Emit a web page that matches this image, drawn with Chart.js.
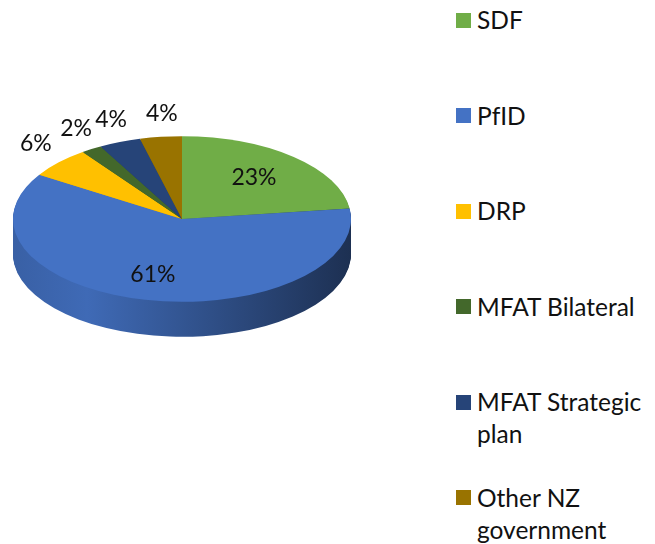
<!DOCTYPE html>
<html>
<head>
<meta charset="utf-8">
<script src="https://cdn.jsdelivr.net/npm/chart.js@4.4.1/dist/chart.umd.min.js"></script>
<style>
  html, body { margin: 0; padding: 0; background: #fff; overflow: hidden; }
  #wrap { position: relative; width: 655px; height: 544px; }
  #pie { position: absolute; left: 0; top: 0; }
  #legend { position: absolute; left: 456px; top: 4px; font-family: Lato, "Open Sans", sans-serif; font-size: 24.5px; line-height: 32px; color: #111; }
  .item { height: 95.5px; display: flex; align-items: flex-start; }
  .box { width: 15px; height: 15px; margin-top: 8.5px; margin-right: 6px; flex: none; }
  .txt { width: 176px; }
</style>
</head>
<body>
<div id="wrap">
  <canvas id="pie" width="365" height="438"></canvas>
  <div id="legend"></div>
</div>
<script>
const categories = ['SDF', 'PfID', 'DRP', 'MFAT Bilateral', 'MFAT Strategic plan', 'Other NZ government'];
const shares = [23, 61, 6, 2, 4, 4];
const colors = ['#70AD47', '#4472C4', '#FFC000', '#43682B', '#264478', '#997300'];

const tilt = 0.49;   // vertical squash of the pie top
const depth = 35;    // thickness of the pie in px

function shade(hex, f) {
  const n = parseInt(hex.slice(1), 16);
  const r = Math.round(((n >> 16) & 255) * f);
  const g = Math.round(((n >> 8) & 255) * f);
  const b = Math.round((n & 255) * f);
  return `rgb(${r},${g},${b})`;
}

const pie3d = {
  id: 'pie3d',
  beforeDatasetsDraw(chart) {
    const ctx = chart.ctx;
    const arcs = chart.getDatasetMeta(0).data;
    const cx = arcs[0].x, cy = arcs[0].y, r = arcs[0].outerRadius;
    ctx.save();
    ctx.translate(cx, cy);
    ctx.scale(1, tilt);
    ctx.translate(-cx, -cy);
    const fills = arcs.map((a, i) => {
      const g = ctx.createLinearGradient(cx - r, 0, cx + r, 0);
      g.addColorStop(0, shade(colors[i], 0.84));
      g.addColorStop(0.22, shade(colors[i], 0.93));
      g.addColorStop(1, shade(colors[i], 0.42));
      return g;
    });
    for (let d = depth; d > 0; d--) {
      const oy = cy + d / tilt;
      arcs.forEach((a, i) => {
        ctx.fillStyle = fills[i];
        ctx.beginPath();
        ctx.moveTo(cx, oy);
        ctx.arc(cx, oy, r, a.startAngle, a.endAngle);
        ctx.closePath();
        ctx.fill();
      });
    }
  },
  afterDatasetsDraw(chart) {
    const ctx = chart.ctx;
    ctx.restore();
    const arcs = chart.getDatasetMeta(0).data;
    const cx = arcs[0].x, cy = arcs[0].y, r = arcs[0].outerRadius;
    const total = shares.reduce((s, v) => s + v, 0);
    ctx.save();
    ctx.font = '23px Lato, "Open Sans", sans-serif';
    ctx.fillStyle = '#111';
    ctx.textAlign = 'center';
    ctx.textBaseline = 'middle';
    arcs.forEach((a, i) => {
      const mid = (a.startAngle + a.endAngle) / 2;
      let x, y;
      if (shares[i] / total < 0.1) {
        // small slices: label outside the rim, nudged clockwise like Excel does
        const rr = 1.2 * r;
        x = cx + rr * Math.cos(mid) + 6 * (1 + Math.cos(mid));
        y = cy + rr * tilt * Math.sin(mid) - 7;
      } else {
        const rr = 0.68 * r;
        x = cx + rr * Math.cos(mid) - 4;
        y = cy + rr * tilt * Math.sin(mid) + 1;
      }
      ctx.fillText(Math.round(shares[i] / total * 100) + '%', x, y);
    });
    ctx.restore();
  }
};

new Chart(document.getElementById('pie'), {
  type: 'pie',
  data: {
    labels: categories,
    datasets: [{
      data: shares,
      backgroundColor: colors,
      borderWidth: 0,
      hoverOffset: 0,
      clip: false
    }]
  },
  options: {
    responsive: false,
    animation: false,
    layout: { padding: { left: 13, right: 14, top: 50, bottom: 50 } },
    plugins: {
      legend: { display: false },
      tooltip: { enabled: false }
    }
  },
  plugins: [pie3d]
});

const legend = document.getElementById('legend');
categories.forEach((c, i) => {
  const item = document.createElement('div');
  item.className = 'item';
  const box = document.createElement('span');
  box.className = 'box';
  box.style.background = colors[i];
  const txt = document.createElement('span');
  txt.className = 'txt';
  txt.textContent = c;
  item.appendChild(box);
  item.appendChild(txt);
  legend.appendChild(item);
});
</script>
</body>
</html>
